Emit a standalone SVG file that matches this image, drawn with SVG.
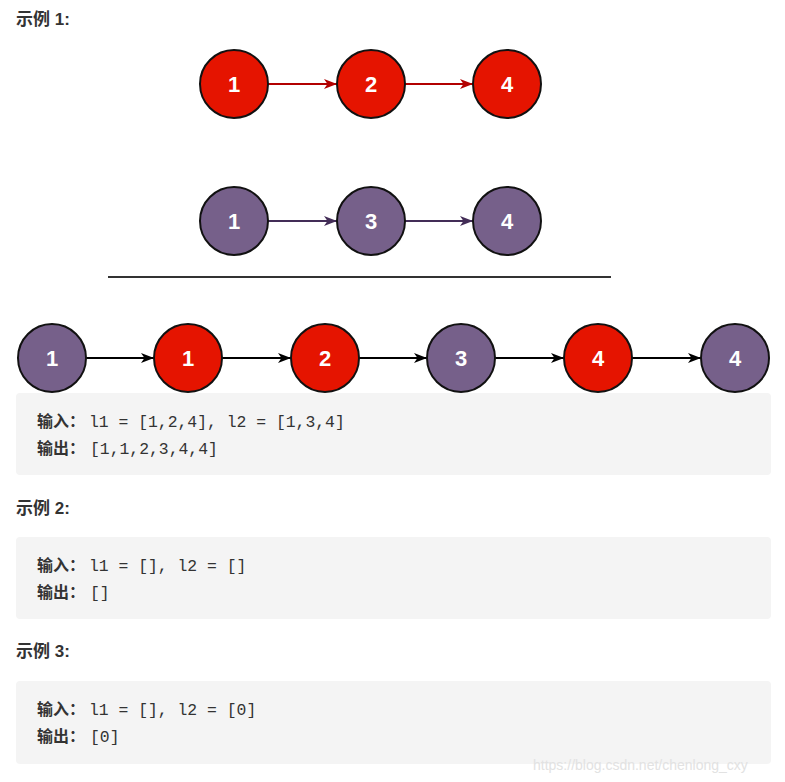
<svg xmlns="http://www.w3.org/2000/svg" width="785" height="782" viewBox="0 0 785 782">
<style>
.h{font-family:"Liberation Sans","Noto Sans CJK SC",sans-serif;font-weight:bold;font-size:17px;fill:#333}
.cn{font-family:"Noto Sans CJK SC",sans-serif;font-weight:bold;font-size:16px;fill:#333}
.mono{font-family:"Liberation Mono","DejaVu Sans Mono",monospace;font-size:16.4px;fill:#333}
.box{fill:#f4f4f4}
.red{fill:#e51400;stroke:#111;stroke-width:2}
.pur{fill:#76608a;stroke:#111;stroke-width:2}
.num{font-family:"Liberation Sans",Arial,sans-serif;font-weight:bold;font-size:22px;fill:#fff;text-anchor:middle}
.wm{font-family:"Liberation Sans",Arial,sans-serif;font-size:14px;fill:#e2e2e2}
</style>
<defs>
<marker id="ar" markerWidth="14" markerHeight="12" refX="13" refY="6" orient="auto" markerUnits="userSpaceOnUse"><path d="M0,1 L13,6 L0,11 L3.5,6 z" fill="#b20000"/></marker>
<marker id="ap" markerWidth="14" markerHeight="12" refX="13" refY="6" orient="auto" markerUnits="userSpaceOnUse"><path d="M0,1 L13,6 L0,11 L3.5,6 z" fill="#432d57"/></marker>
<marker id="ab" markerWidth="14" markerHeight="12" refX="13" refY="6" orient="auto" markerUnits="userSpaceOnUse"><path d="M0,1 L13,6 L0,11 L3.5,6 z" fill="#000"/></marker>
</defs>
<rect width="785" height="782" fill="#fff"/>
<text class="h" x="16" y="25">示例 1:</text>
<g id="connectors">
<line x1="268" y1="84" x2="337" y2="84" stroke="#b20000" stroke-width="2" marker-end="url(#ar)"/>
<line x1="405" y1="84" x2="473" y2="84" stroke="#b20000" stroke-width="2" marker-end="url(#ar)"/>
<line x1="268" y1="221" x2="337" y2="221" stroke="#432d57" stroke-width="2" marker-end="url(#ap)"/>
<line x1="405" y1="221" x2="473" y2="221" stroke="#432d57" stroke-width="2" marker-end="url(#ap)"/>
<line x1="86" y1="358" x2="154" y2="358" stroke="#000" stroke-width="2" marker-end="url(#ab)"/>
<line x1="222" y1="358" x2="291" y2="358" stroke="#000" stroke-width="2" marker-end="url(#ab)"/>
<line x1="359" y1="358" x2="427" y2="358" stroke="#000" stroke-width="2" marker-end="url(#ab)"/>
<line x1="495" y1="358" x2="564" y2="358" stroke="#000" stroke-width="2" marker-end="url(#ab)"/>
<line x1="632" y1="358" x2="701" y2="358" stroke="#000" stroke-width="2" marker-end="url(#ab)"/>
</g>
<g id="a1"><circle class="red" cx="234" cy="84" r="34"/><text class="num" x="234" y="92">1</text></g>
<g id="a2"><circle class="red" cx="371" cy="84" r="34"/><text class="num" x="371" y="92">2</text></g>
<g id="a4"><circle class="red" cx="507" cy="84" r="34"/><text class="num" x="507" y="92">4</text></g>
<g id="b1"><circle class="pur" cx="234" cy="221" r="34"/><text class="num" x="234" y="229">1</text></g>
<g id="b3"><circle class="pur" cx="371" cy="221" r="34"/><text class="num" x="371" y="229">3</text></g>
<g id="b4"><circle class="pur" cx="507" cy="221" r="34"/><text class="num" x="507" y="229">4</text></g>
<line id="sep" x1="108" y1="277" x2="611" y2="277" stroke="#333" stroke-width="2"/>
<g id="c1"><circle class="pur" cx="52" cy="358" r="34"/><text class="num" x="52" y="366">1</text></g>
<g id="c2"><circle class="red" cx="188" cy="358" r="34"/><text class="num" x="188" y="366">1</text></g>
<g id="c3"><circle class="red" cx="325" cy="358" r="34"/><text class="num" x="325" y="366">2</text></g>
<g id="c4"><circle class="pur" cx="461" cy="358" r="34"/><text class="num" x="461" y="366">3</text></g>
<g id="c5"><circle class="red" cx="598" cy="358" r="34"/><text class="num" x="598" y="366">4</text></g>
<g id="c6"><circle class="pur" cx="735" cy="358" r="34"/><text class="num" x="735" y="366">4</text></g>
<rect class="box" x="16" y="393" width="755" height="82" rx="4"/>
<text class="cn" x="37" y="427">输入：</text><text class="mono" x="89" y="427">l1 = [1,2,4], l2 = [1,3,4]</text>
<text class="cn" x="37" y="454">输出：</text><text class="mono" x="90" y="454">[1,1,2,3,4,4]</text>
<text class="h" x="16" y="514">示例 2:</text>
<rect class="box" x="16" y="537" width="755" height="82" rx="4"/>
<text class="cn" x="37" y="571">输入：</text><text class="mono" x="89" y="571">l1 = [], l2 = []</text>
<text class="cn" x="37" y="598">输出：</text><text class="mono" x="90" y="598">[]</text>
<text class="h" x="16" y="657">示例 3:</text>
<rect class="box" x="16" y="681" width="755" height="83" rx="4"/>
<text class="cn" x="37" y="715">输入：</text><text class="mono" x="89" y="715">l1 = [], l2 = [0]</text>
<text class="cn" x="37" y="742">输出：</text><text class="mono" x="90" y="742">[0]</text>
<text class="wm" x="533" y="770">https://blog.csdn.net/chenlong_cxy</text>
</svg>
